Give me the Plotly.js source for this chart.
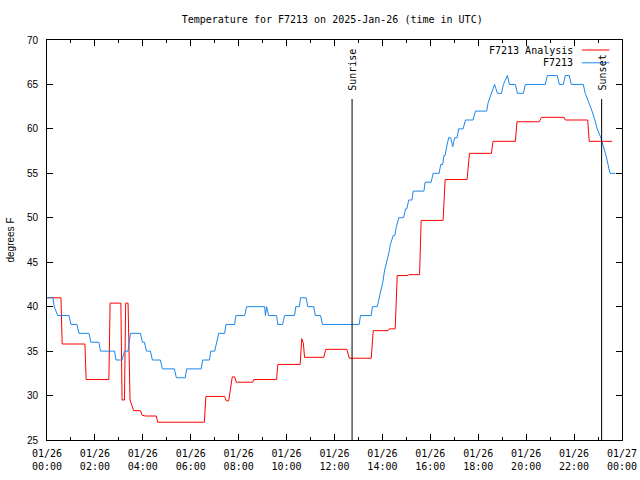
<!DOCTYPE html>
<html>
<head>
<meta charset="utf-8">
<script src="https://cdn.plot.ly/plotly-3.0.1.min.js"></script>
<style>html,body{margin:0;padding:0;background:#fff;}#chart{width:640px;height:480px;}</style>
</head>
<body>
<div id="chart"></div>
<script>
// ---- data ----
const chartDay = '2025-01-26';
const nextDay = '2025-01-27';

const analysisName = 'F7213 Analysis';
const analysisTimes = ['00:00','00:35','00:38','01:35','01:38','02:35','02:38','03:05','03:08','03:14',
  '03:17','03:23','03:28','03:33','03:37','03:54','03:58','04:06','04:34','04:37',
  '06:34','06:38','07:25','07:29','07:35','07:44','07:50','07:54','08:35','08:38',
  '09:35','09:38','10:34','10:38','10:42','10:45','11:33','11:38','12:31','12:37',
  '13:32','13:37','14:14','14:17','14:32','14:37','15:04','15:06','15:33','15:37',
  '16:32','16:37','17:32','17:38','18:33','18:37','19:33','19:37','20:33','20:38',
  '21:35','21:38','22:34','22:38','23:35'];
const analysisValues = [41,41,35.8,35.8,31.8,31.8,40.4,40.4,29.5,29.5,
  40.4,40.4,29.5,28.9,28.3,28.3,27.8,27.7,27.7,27.0,
  27.0,29.9,29.9,29.4,29.4,32.1,32.1,31.5,31.5,31.8,
  31.8,33.5,33.5,36.4,35.9,34.3,34.3,35.2,35.2,34.2,
  34.2,37.3,37.3,37.5,37.5,43.5,43.5,43.6,43.6,49.7,
  49.7,54.3,54.3,57.25,57.25,58.6,58.6,60.8,60.8,61.3,
  61.3,61.0,61.0,58.6,58.6];

const stationName = 'F7213';
const stationTimes = ['00:00','00:15','00:18','00:27','00:55','01:00','01:15','01:20','01:45','01:50',
  '02:10','02:14','02:49','02:53','03:08','03:14','03:23','03:29','03:54','03:59',
  '04:04','04:09','04:19','04:24','04:44','04:49','05:19','05:24','05:46','05:50',
  '06:26','06:30','06:47','06:50','07:00','07:05','07:10','07:25','07:28','07:50',
  '07:53','08:15','08:20','09:05','09:07','09:10','09:15','09:35','09:38','09:50',
  '09:55','10:20','10:23','10:32','10:35','10:49','10:53','11:08','11:12','11:25',
  '11:30','13:02','13:05','13:32','13:35','13:47','13:52','13:57','14:02','14:05',
  '14:11','14:16','14:20','14:27','14:31','14:35','14:41','14:53','14:58','15:01',
  '15:06','15:14','15:17','15:44','15:47','16:02','16:07','16:22','16:26','16:31',
  '16:34','16:37','16:41','16:46','16:51','16:56','17:01','17:07','17:11','17:22',
  '17:28','17:47','17:53','18:21','18:25','18:33','18:41','18:48','18:58','19:03',
  '19:13','19:18','19:33','19:38','19:53','19:58','20:48','20:53','21:18','21:23',
  '21:33','21:38','21:48','21:53','22:23','22:28','22:37','22:45','22:52','22:58',
  '23:07','23:14','23:20','23:25','23:30','23:43'];
const stationValues = [41,41,40,39,39,38,38,37,37,36,
  36,35,35,34,34,35,35,37,37,36,
  36,35,35,34,34,33,33,32,32,33,
  33,34,34,35,35,36,37,37,38,38,
  39,39,40,40,39,40,39,39,38,38,
  39,39,40,40,41,41,40,40,39,39,
  38,38,39,39,40,40,41,42,43,44,
  45,46,47,48,48,49,50,50,51,51,
  52,52,53,53,54,54,55,55,56,56,
  57,57,58,59,59,58,59,59,60,60,
  61,61,62,62,63,64,65,64,64,65,
  66,65,65,64,64,65,65,66,66,65,
  65,66,66,65,65,64,63,62,61,60,
  59,58,57,56,55,55];

const eventNames = ['Sunrise', 'Sunset'];
const eventTimes = ['12:44', '23:09'];

const titleText = 'Temperature for F7213 on 2025-Jan-26 (time in UTC)';
const yTitle = 'degrees F';
const yRange = [25, 70];

// ---- build ----
const toDate = t => chartDay + ' ' + t;
const mono = 'DejaVu Sans Mono, monospace';
const sans = 'Liberation Sans, Arial, sans-serif';
const redColor = '#ff0000';
const blueColor = '#1c86ee';

const traces = [
  {x: analysisTimes.map(toDate), y: analysisValues, name: analysisName, type: 'scatter', mode: 'lines',
   line: {color: redColor, width: 1}},
  {x: stationTimes.map(toDate), y: stationValues, name: stationName, type: 'scatter', mode: 'lines',
   line: {color: blueColor, width: 1}}
];

const shapes = [];
const annotations = [];
eventTimes.forEach((t, i) => {
  shapes.push({type: 'line', xref: 'x', yref: 'paper', x0: toDate(t), x1: toDate(t), y0: 0, y1: 0.8525,
    line: {color: '#000', width: 1}});
  annotations.push({text: eventNames[i], xref: 'x', yref: 'paper', x: toDate(t), y: 0.868,
    xanchor: 'center', yanchor: 'bottom', textangle: -90, showarrow: false, xshift: 1,
    font: {family: mono, size: 10, color: '#000'}});
});

// custom legend (text then sample line, gnuplot style)
const legendItems = [[analysisName, redColor, 0.975], [stationName, blueColor, 0.943]];
legendItems.forEach(([name, col, yy]) => {
  annotations.push({text: name, xref: 'paper', yref: 'paper', x: 0.918, y: yy, xanchor: 'right',
    yanchor: 'middle', showarrow: false, font: {family: mono, size: 10, color: '#000'}});
  shapes.push({type: 'line', xref: 'paper', yref: 'paper', x0: 0.93, x1: 0.978, y0: yy, y1: yy,
    line: {color: col, width: 1}});
});

const layout = {
  width: 640, height: 480,
  margin: {l: 47, r: 18, t: 40, b: 40},
  paper_bgcolor: '#fff', plot_bgcolor: '#fff',
  showlegend: false,
  title: {text: titleText, xref: 'container', x: 0.519, xanchor: 'center', yref: 'container', y: 0.96,
    yanchor: 'middle', font: {family: mono, size: 10, color: '#000'}},
  xaxis: {
    type: 'date', range: [chartDay + ' 00:00', nextDay + ' 00:00'],
    tick0: chartDay + ' 00:00', dtick: 7200000, tickformat: '%m/%d<br>%H:%M',
    ticks: 'inside', ticklen: 6, tickcolor: '#000', tickwidth: 1,
    showline: true, linecolor: '#000', linewidth: 1, mirror: 'ticks',
    showgrid: false, zeroline: false, ticklabelstandoff: 4,
    tickfont: {family: mono, size: 10, color: '#000'},
    minor: {dtick: 3600000, ticks: 'inside', ticklen: 3, tickcolor: '#000', showgrid: false}
  },
  yaxis: {
    range: yRange, dtick: 5, tick0: 25,
    ticks: 'inside', ticklen: 6, tickcolor: '#000', tickwidth: 1,
    showline: true, linecolor: '#000', linewidth: 1, mirror: 'ticks',
    showgrid: false, zeroline: false, ticklabelstandoff: 6,
    tickfont: {family: sans, size: 10, color: '#000'},
    title: {text: yTitle, font: {family: sans, size: 10, color: '#000'}, standoff: 10}
  },
  shapes: shapes,
  annotations: annotations
};

Plotly.newPlot('chart', traces, layout, {staticPlot: true, displayModeBar: false});
</script>
</body>
</html>
